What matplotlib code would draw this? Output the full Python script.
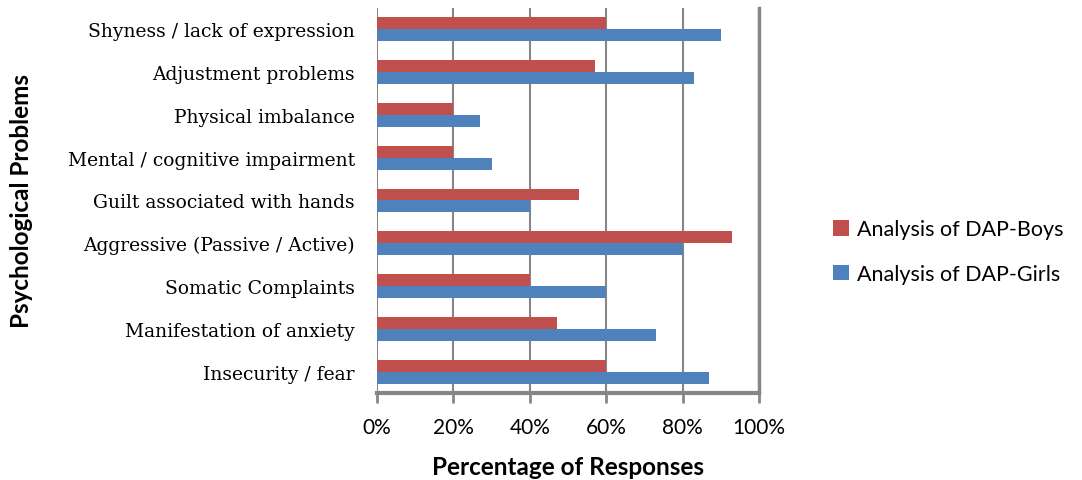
import matplotlib
matplotlib.use("Agg")
import matplotlib.pyplot as plt
import numpy as np
from matplotlib.ticker import FuncFormatter

categories = [
    "Insecurity / fear",
    "Manifestation of anxiety",
    "Somatic Complaints",
    "Aggressive (Passive / Active)",
    "Guilt associated with hands",
    "Mental / cognitive impairment",
    "Physical imbalance",
    "Adjustment problems",
    "Shyness / lack of expression",
]
boys = [60, 47, 40, 93, 53, 20, 20, 57, 60]
girls = [87, 73, 60, 80, 40, 30, 27, 83, 90]
xticks = [0, 20, 40, 60, 80, 100]

red = "#C0504D"
blue = "#4F81BD"
grid = "#868686"

fig = plt.figure(figsize=(10.82, 4.81), dpi=100)
ax = fig.add_axes([0.3484, 0.1809, 0.7015 - 0.3484, 0.9813 - 0.1809])

y = np.arange(len(categories))
h = 0.28
ax.barh(y + h / 2, boys, height=h, color=red, label="Analysis of DAP-Boys", zorder=3)
ax.barh(y - h / 2, girls, height=h, color=blue, label="Analysis of DAP-Girls", zorder=3)

ax.set_xlim(0, 100)
ax.set_ylim(-0.5, len(categories) - 0.5)
ax.set_xticks(xticks)
ax.xaxis.set_major_formatter(FuncFormatter(lambda v, p: f"{int(v)}%"))
ax.set_yticks(y)
ax.set_yticklabels(categories, family="DejaVu Serif", fontsize=13.5)
ax.tick_params(axis="y", length=0, pad=16)
ax.tick_params(axis="x", length=7, width=2, color=grid, pad=10, labelsize=15)
for lbl in ax.get_xticklabels():
    lbl.set_family("Lato")

ax.grid(axis="x", color=grid, linewidth=1.5, zorder=0)
for s in ["top", "left"]:
    ax.spines[s].set_visible(False)
ax.spines["right"].set_color(grid)
ax.spines["right"].set_linewidth(2.5)
ax.spines["bottom"].set_color(grid)
ax.spines["bottom"].set_linewidth(3)

ax.set_xlabel("Percentage of Responses", family="Lato", fontweight="bold", fontsize=17.5)
ax.xaxis.set_label_coords(0.5, -0.162)
ax.set_ylabel("Psychological Problems", family="Lato", fontweight="bold", fontsize=17.5)
ax.yaxis.set_label_coords(-0.90, 0.5)

leg = fig.legend(loc="center left", bbox_to_anchor=(0.752, 0.475), frameon=False,
                 prop={"family": "Lato", "size": 15.5}, handlelength=0.75, handleheight=0.75,
                 labelspacing=1.15, handletextpad=0.35)

fig.savefig("out.png", dpi=100)
